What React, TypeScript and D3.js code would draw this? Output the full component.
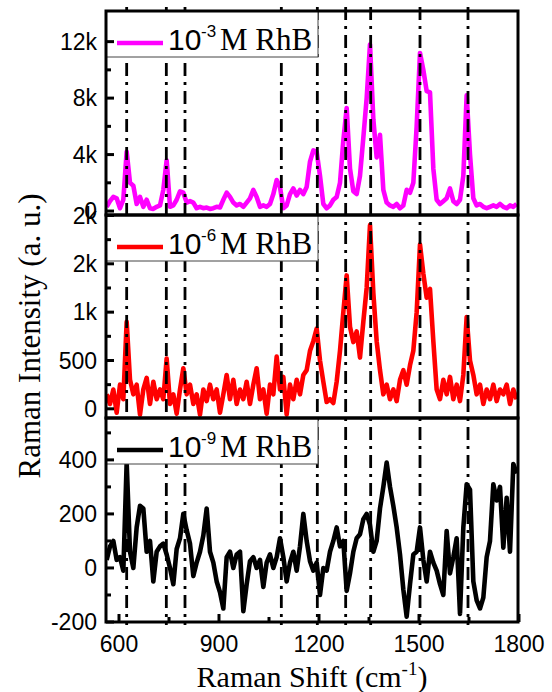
import { useRef, useEffect } from "react";
import * as d3 from "d3";

// Raman shift grid (cm-1) for the three spectra
const shiftStart = 563;
const shiftStep = 10;

// 10^-3 M RhB
const rhb3 = [
  300, 700, 1000, 900, 200, 800, 4200, 2000, 1800, 500,
  1000, 300, 800, 200, 150, 300, 400, 1500, 3600, 300,
  400, 800, 1400, 1300, 600, 700, 600, 200, 300, 200,
  250, 150, 200, 300, 250, 800, 1300, 1000, 600, 400,
  500, 300, 600, 900, 1500, 1000, 300, 400, 300, 500,
  1200, 2200, 1700, 200, 400, 1200, 1600, 1100, 1500, 1200,
  1700, 3500, 4300, 4200, 2500, 500, 200, 400, 800, 1000,
  2000, 5000, 7300, 3000, 1400, 1200, 2500, 5200, 8000, 11800,
  6500, 3800, 5400, 1500, 600, 400, 300, 500, 200, 400,
  1500, 1300, 2000, 6000, 11200, 10000, 8500, 8400, 3000, 800,
  500, 700, 900, 1600, 700, 500, 800, 2500, 8200, 4000,
  900, 400, 500, 300, 200, 300, 400, 300, 500, 300,
  200, 400, 300, 500,
];

// 10^-6 M RhB
const rhb6 = [
  150, 50, 200, -40, 250, 100, 900, 300, 150, 250,
  -60, 200, 320, 50, 280, 100, 200, 100, 520, 50,
  150, -50, 200, 420, 150, 250, 50, 150, -60, 200,
  80, 250, 100, 200, -40, 150, 350, 100, 300, 50,
  200, 100, 280, 50, 250, 420, 100, 200, -50, 250,
  150, 540, 200, 330, -60, 250, 100, 300, 150, 350,
  400, 600, 700, 830, 500, 280, 70, 100, 60, 280,
  600, 1000, 1380, 850, 690, 800, 530, 900, 1250, 1900,
  1200, 700, 400, 150, 250, 100, 200, 80, 300, 400,
  250, 450, 600, 1000, 1700, 1400, 1150, 1240, 700, 200,
  100, 300, 150, 330, 100, 250, 80, 350, 950, 500,
  350, 150, 250, 50, 200, 100, 250, 80, 200, 150,
  250, 50, 200, 100,
];

// 10^-9 M RhB
const rhb9 = [
  30, 80, 100, 30, 40, -10, 390, 60, 0, 150,
  230, 220, 60, 100, -50, 60, 80, 90, 50, 0,
  -60, 70, 110, 200, 140, 90, -30, 20, 60, 120,
  220, 60, 20, -50, -90, -150, 40, 60, 0, 50,
  60, -160, -60, 25, 40, 0, 30, -70, 20, 50,
  0, 40, 110, 40, -50, 20, 60, -10, 80, 200,
  100, 25, -10, 20, -100, 0, -10, 60, 100, 150,
  80, 100, -85, -20, 60, 110, 125, 180, 200, 160,
  60, 100, 220, 300, 390, 300, 230, 150, 50, -80,
  -180, -60, 50, 60, 150, 30, -50, 60, 20, -10,
  -60, -100, 137, -20, 40, 110, -170, 150, 310, 290,
  -50, -120, -150, -110, 40, 100, 310, 250, 300, 75,
  260, 60, 385, 350,
];

const peakLines = [623, 742, 798, 1087, 1195, 1280, 1355, 1503, 1647];
const xTicks = [600, 900, 1200, 1500, 1800];
const xMinor = [750, 1050, 1350, 1650];
const exponents = ["-3", "-6", "-9"];
const colors = ["#ff00ff", "#ff0000", "#000000"];

export default function App() {
  const ref = useRef<HTMLDivElement>(null);

  useEffect(() => {
    const width = 552;
    const height = 692;
    const left = 106;
    const right = 518;
    const sans = "'Liberation Sans', Arial, sans-serif";
    const serif = "'Liberation Serif', 'Times New Roman', serif";

    const panels = [
      { data: rhb3, top: 11, bottom: 215, domain: [-280, 14170], major: [0, 4000, 8000, 12000], fmt: ["0", "4k", "8k", "12k"], minor: [2000, 6000, 10000] },
      { data: rhb6, top: 215, bottom: 418, domain: [-95, 2005], major: [0, 500, 1000, 1500, 2000], fmt: ["0", "500", "1k", "2k", "2k"], minor: [250, 750, 1250, 1750] },
      { data: rhb9, top: 418, bottom: 622, domain: [-200, 555], major: [-200, 0, 200, 400], fmt: ["-200", "0", "200", "400"], minor: [-100, 100, 300, 500] },
    ];

    const x = d3.scaleLinear().domain([561, 1797]).range([left, right]);
    const shift = rhb3.map((_, i) => shiftStart + i * shiftStep);

    const root = d3.select(ref.current);
    root.selectAll("*").remove();
    const svg = root
      .append("svg")
      .attr("width", width)
      .attr("height", height)
      .attr("viewBox", [0, 0, width, height]);

    svg.append("rect").attr("width", width).attr("height", height).attr("fill", "white");

    const scales = panels.map((p) => d3.scaleLinear().domain(p.domain).range([p.bottom, p.top]));

    // spectra
    panels.forEach((p, k) => {
      const y = scales[k];
      svg
        .append("clipPath")
        .attr("id", "clip" + k)
        .append("rect")
        .attr("x", left)
        .attr("y", p.top)
        .attr("width", right - left)
        .attr("height", p.bottom - p.top);

      const line = d3
        .line<number>()
        .x((_, i) => x(shift[i]))
        .y((d) => y(d));

      svg
        .append("path")
        .attr("clip-path", `url(#clip${k})`)
        .attr("d", line(p.data))
        .attr("fill", "none")
        .attr("stroke", colors[k])
        .attr("stroke-width", 4.6)
        .attr("stroke-linejoin", "round");
    });

    // dash-dot peak markers
    svg
      .append("g")
      .selectAll("line")
      .data(peakLines)
      .join("line")
      .attr("x1", (d) => x(d))
      .attr("x2", (d) => x(d))
      .attr("y1", 7)
      .attr("y2", 625)
      .attr("stroke", "black")
      .attr("stroke-width", 2.8)
      .attr("stroke-dasharray", "13,6,3,6");

    // legends
    panels.forEach((p, k) => {
      const g = svg.append("g").attr("transform", `translate(${left},${p.top})`);
      g.append("rect")
        .attr("width", 212)
        .attr("height", 46)
        .attr("fill", "white")
        .attr("stroke", "#444")
        .attr("stroke-width", 1);
      g.append("line")
        .attr("x1", 11)
        .attr("x2", 57)
        .attr("y1", 32)
        .attr("y2", 32)
        .attr("stroke", colors[k])
        .attr("stroke-width", 4.5);
      g.append("text")
        .attr("x", 62)
        .attr("y", 39)
        .attr("font-family", sans)
        .attr("font-size", 30)
        .text("10");
      g.append("text")
        .attr("x", 95)
        .attr("y", 26)
        .attr("font-family", sans)
        .attr("font-size", 17)
        .text(exponents[k]);
      g.append("text")
        .attr("x", 114)
        .attr("y", 39)
        .attr("font-family", serif)
        .attr("font-size", 31)
        .text("M RhB");
    });

    // frames, ticks, y labels
    panels.forEach((p, k) => {
      const y = scales[k];
      svg
        .append("rect")
        .attr("x", left)
        .attr("y", p.top)
        .attr("width", right - left)
        .attr("height", p.bottom - p.top)
        .attr("fill", "none")
        .attr("stroke", "black")
        .attr("stroke-width", 3);

      const g = svg.append("g");
      g.selectAll(".major")
        .data(p.major)
        .join("line")
        .attr("x1", left)
        .attr("x2", left + 8)
        .attr("y1", (d) => y(d))
        .attr("y2", (d) => y(d))
        .attr("stroke", "black")
        .attr("stroke-width", 3);
      g.selectAll(".minor")
        .data(p.minor)
        .join("line")
        .attr("x1", left)
        .attr("x2", left + 5)
        .attr("y1", (d) => y(d))
        .attr("y2", (d) => y(d))
        .attr("stroke", "black")
        .attr("stroke-width", 3);
      g.selectAll("text")
        .data(p.major)
        .join("text")
        .attr("x", 97)
        .attr("y", (d) => y(d))
        .attr("dy", "0.36em")
        .attr("text-anchor", "end")
        .attr("font-family", sans)
        .attr("font-size", 23)
        .text((_, i) => p.fmt[i]);
    });

    // bottom x axis
    const bottom = panels[2].bottom;
    const xa = svg.append("g");
    xa.selectAll(".xmaj")
      .data(xTicks)
      .join("line")
      .attr("class", "xmaj")
      .attr("x1", (d) => x(d))
      .attr("x2", (d) => x(d))
      .attr("y1", bottom)
      .attr("y2", bottom - 8)
      .attr("stroke", "black")
      .attr("stroke-width", 3);
    xa.selectAll(".xmin")
      .data(xMinor)
      .join("line")
      .attr("class", "xmin")
      .attr("x1", (d) => x(d))
      .attr("x2", (d) => x(d))
      .attr("y1", bottom)
      .attr("y2", bottom - 5)
      .attr("stroke", "black")
      .attr("stroke-width", 3);
    xa.selectAll("text")
      .data(xTicks)
      .join("text")
      .attr("x", (d) => x(d))
      .attr("y", 652)
      .attr("text-anchor", "middle")
      .attr("font-family", sans)
      .attr("font-size", 23)
      .text((d) => d);

    // axis titles
    const xt = svg
      .append("text")
      .attr("x", 312)
      .attr("y", 687)
      .attr("text-anchor", "middle")
      .attr("font-family", serif)
      .attr("font-size", 30);
    xt.append("tspan").text("Raman Shift (cm");
    xt.append("tspan").attr("dy", -12).attr("font-size", 19).text("-1");
    xt.append("tspan").attr("dy", 12).text(")");

    svg
      .append("text")
      .attr("transform", "translate(40,336) rotate(-90)")
      .attr("text-anchor", "middle")
      .attr("font-family", serif)
      .attr("font-size", 31)
      .text("Raman Intensity (a. u.)");
  }, []);

  return <div ref={ref} style={{ position: "absolute", left: 0, top: 0 }} />;
}
